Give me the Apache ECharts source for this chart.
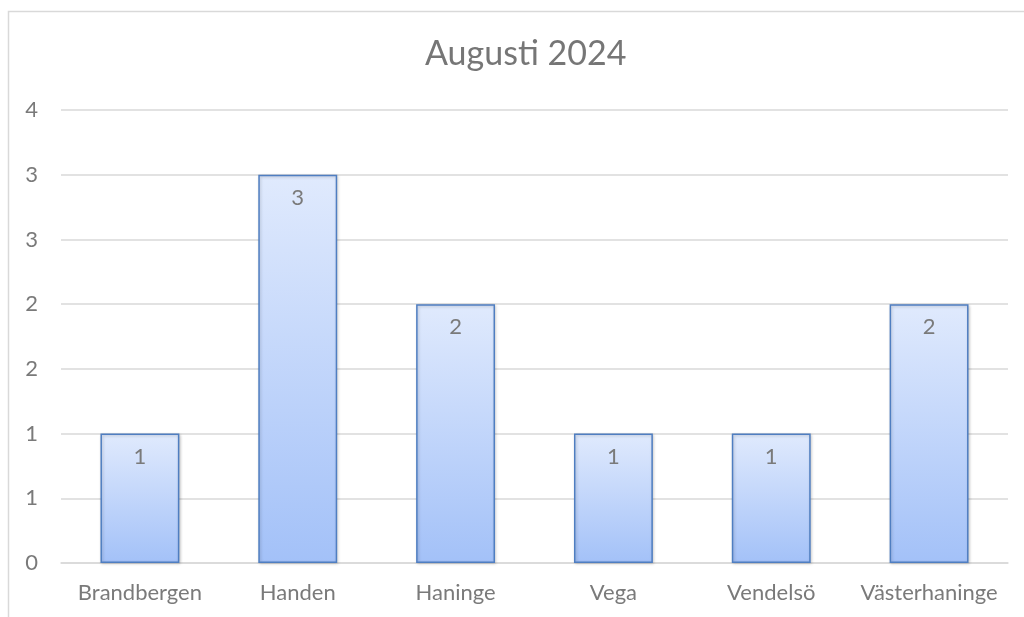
<!DOCTYPE html>
<html><head><meta charset="utf-8">
<script src="https://cdn.jsdelivr.net/npm/echarts@6/dist/echarts.min.js"></script>
<style>html,body{margin:0;padding:0;background:#fff}#c{width:1024px;height:617px}</style>
</head><body><div id="c"></div>
<script>
const categories = ["Brandbergen", "Handen", "Haninge", "Vega", "Vendelsö", "Västerhaninge"];
const values = [1, 3, 2, 1, 1, 2];
const titleText = "Augusti 2024";
const yMin = 0, yMax = 3.5, yStep = 0.5;

const font = "Lato, 'Open Sans', sans-serif";
const chart = echarts.init(document.getElementById('c'));
chart.setOption({
  animation: false,
  title: { text: titleText, left: 420, top: 32, textStyle: { fontFamily: font, fontSize: 34, fontWeight: 'normal', color: '#767676' } },
  graphic: [{ type: 'rect', shape: { x: 8.5, y: 11.5, width: 1100, height: 700 }, style: { fill: 'none', stroke: '#d9d9d9', lineWidth: 1.5 }, silent: true }],
  grid: { left: 61, right: 16, top: 110, bottom: 54, containLabel: false },
  xAxis: {
    type: 'category', data: categories,
    axisLine: { show: true, lineStyle: { color: '#d9d9d9', width: 1.5 } },
    axisTick: { show: false },
    axisLabel: { interval: 0, fontFamily: font, fontSize: 22, color: '#7a7a7a', margin: 19 }
  },
  yAxis: {
    type: 'value', min: yMin, max: yMax, interval: yStep,
    axisLine: { show: false }, axisTick: { show: false },
    splitLine: { lineStyle: { color: '#d9d9d9', width: 1.5 } },
    axisLabel: { fontFamily: font, fontSize: 22, color: '#7a7a7a', margin: 23, formatter: v => String(Math.round(v)) }
  },
  series: [{
    type: 'bar', data: values, barWidth: '50%',
    itemStyle: {
      color: new echarts.graphic.LinearGradient(0, 0, 0, 1, [
        { offset: 0, color: '#e0eafd' }, { offset: 1, color: '#a3c1f8' }
      ]),
      borderColor: '#4f7ec1', borderWidth: 1.5,
      shadowColor: 'rgba(0,0,0,0.2)', shadowBlur: 3, shadowOffsetX: 1, shadowOffsetY: 1
    },
    label: { show: true, position: 'insideTop', distance: 12, fontFamily: font, fontSize: 22, color: '#7a7a7a' }
  }]
});
</script></body></html>
